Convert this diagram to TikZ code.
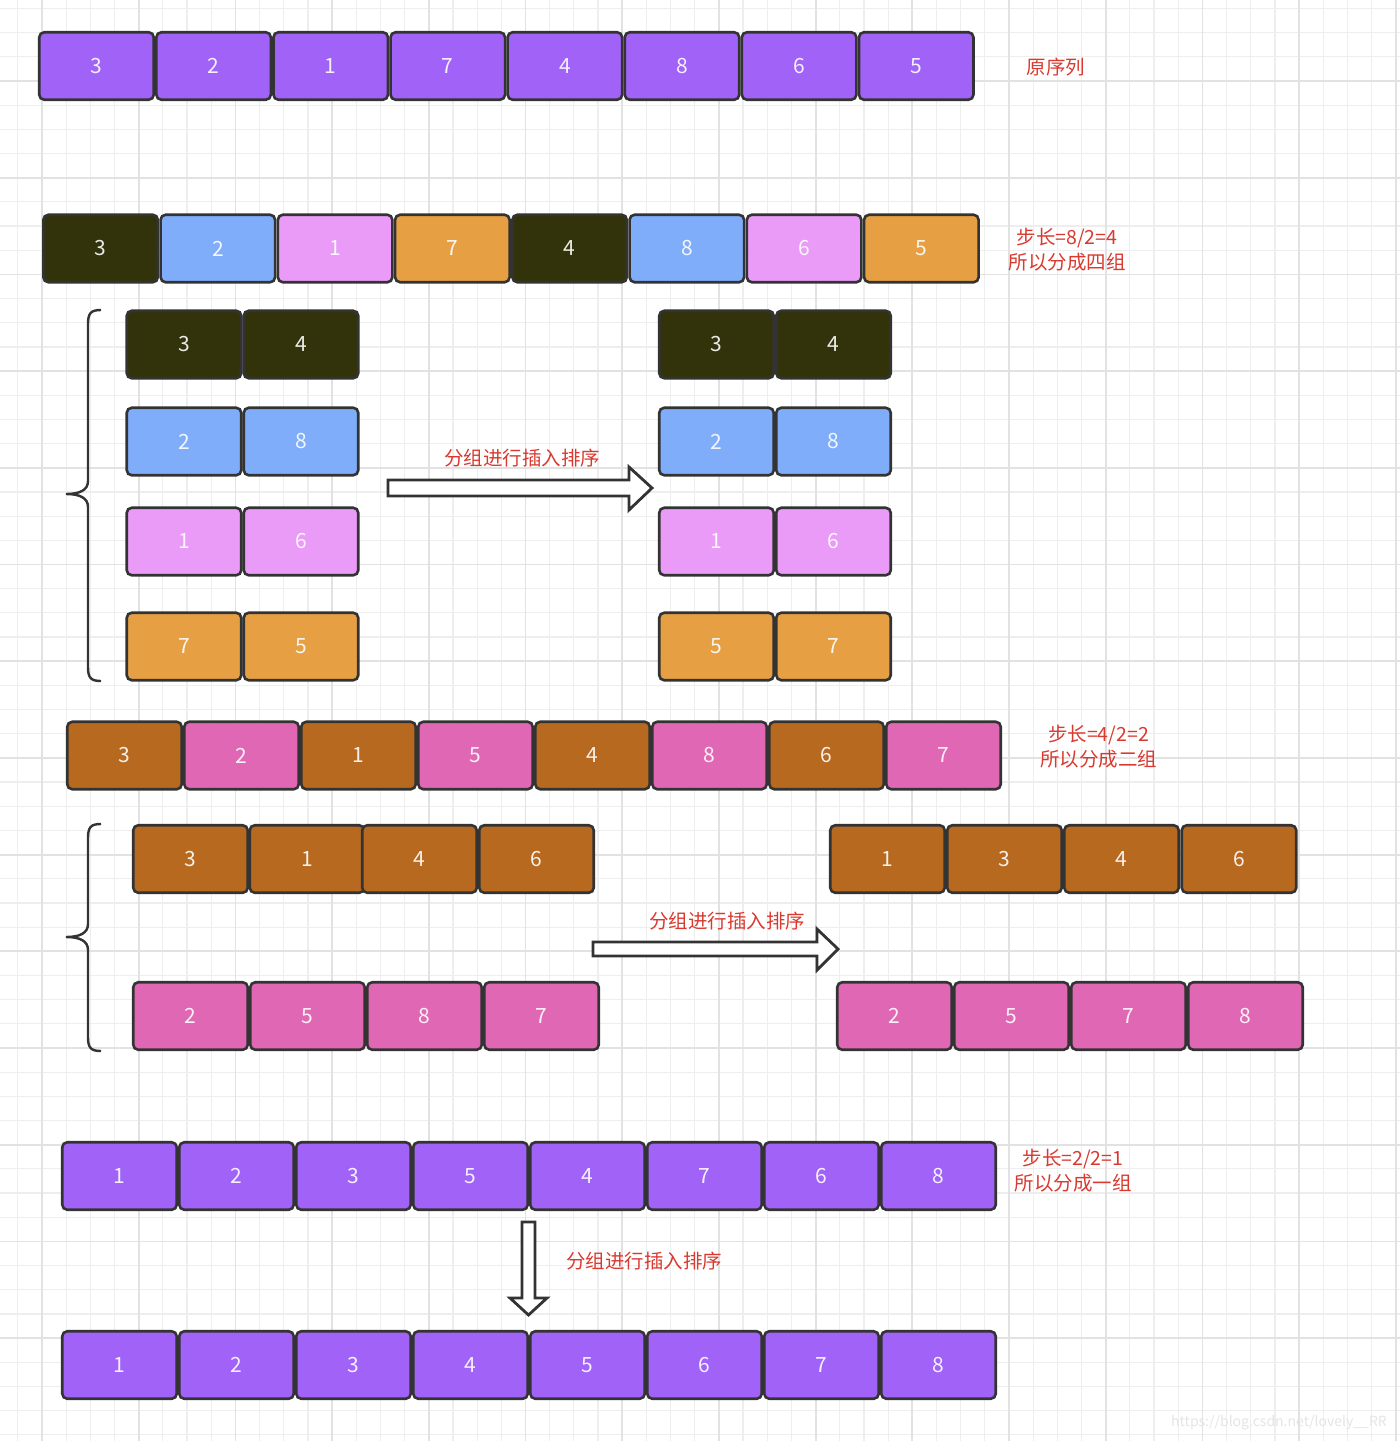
\documentclass[tikz,border=0pt]{standalone}
\usepackage{fontspec}
\setmainfont{Noto Sans CJK SC}
\setsansfont{Noto Sans CJK SC}
\definecolor{cPurple}{HTML}{A162F7}
\definecolor{cOlive}{HTML}{32330A}
\definecolor{cBlue}{HTML}{7FADFA}
\definecolor{cLPink}{HTML}{E99BF7}
\definecolor{cOrange}{HTML}{E6A043}
\definecolor{cBrown}{HTML}{B6691F}
\definecolor{cPink}{HTML}{E067B4}
\definecolor{cBorder}{HTML}{333333}
\definecolor{cRed}{HTML}{D93A30}
\definecolor{cGridMinor}{HTML}{EEEEEE}
\definecolor{cGridMajor}{HTML}{E2E2E2}
\begin{document}
\begin{tikzpicture}[x=0.5pt,y=-0.5pt,
  gridminor/.style={draw=cGridMinor, line width=0.6pt},
  gridmajor/.style={draw=cGridMajor, line width=0.9pt},
  cell/.style={draw=cBorder, line width=1.3pt, rounded corners=2.5pt,
    minimum width=57.25pt, minimum height=33.75pt, inner sep=0pt,
    text=white, text opacity=0.9, font=\fontsize{10.5}{12}\selectfont},
  lab/.style={text=cRed, font=\fontsize{9.75}{12.5}\selectfont, align=center, inner sep=0pt},
  hollow/.style={draw=cBorder, fill=white, line width=1.4pt, line join=miter},
  bracepath/.style={draw=cBorder, line width=1.2pt}
]
\useasboundingbox[fill=white] (0,0) rectangle (1400,1441);
% grid
\foreach \i in {-1,...,56} \draw[gridminor] ({42+24.175*\i},0) -- ({42+24.175*\i},1441);
\foreach \j in {-3,...,56} \draw[gridminor] (0,{81+24.175*\j}) -- (1400,{81+24.175*\j});
\foreach \i in {0,...,14} \draw[gridmajor] ({42+96.7*\i},0) -- ({42+96.7*\i},1441);
\foreach \j in {0,...,13} \draw[gridmajor] (0,{81+96.7*\j}) -- (1400,{81+96.7*\j});

% row 1: original sequence
\foreach \v [count=\i] in {3,2,1,7,4,8,6,5}
  \node[cell, fill=cPurple] (a\i) at ({96.5+117.1*(\i-1)},66) {\v};
\node[lab] (la) at (1056,67) {原序列};

% row 2: gap 4
\foreach \v/\c [count=\i] in {3/cOlive,2/cBlue,1/cLPink,7/cOrange,4/cOlive,8/cBlue,6/cLPink,5/cOrange}
  \node[cell, fill=\c] (b\i) at ({100.6+117.25*(\i-1)},248.5) {\v};
\node[lab] (lb) at (1067,249.5) {步长=8/2=4\\所以分成四组};

% groups of 4 (left)
\node[cell, fill=cOlive] (g1a) at (184,344.5) {3};
\node[cell, fill=cOlive] (g1b) at (301,344.5) {4};
\node[cell, fill=cBlue] (g2a) at (184,441.5) {2};
\node[cell, fill=cBlue] (g2b) at (301,441.5) {8};
\node[cell, fill=cLPink] (g3a) at (184,541.5) {1};
\node[cell, fill=cLPink] (g3b) at (301,541.5) {6};
\node[cell, fill=cOrange] (g4a) at (184,646.5) {7};
\node[cell, fill=cOrange] (g4b) at (301,646.5) {5};
% groups of 4 (right, sorted)
\node[cell, fill=cOlive] (h1a) at (716.5,344.5) {3};
\node[cell, fill=cOlive] (h1b) at (833.5,344.5) {4};
\node[cell, fill=cBlue] (h2a) at (716.5,441.5) {2};
\node[cell, fill=cBlue] (h2b) at (833.5,441.5) {8};
\node[cell, fill=cLPink] (h3a) at (716.5,541.5) {1};
\node[cell, fill=cLPink] (h3b) at (833.5,541.5) {6};
\node[cell, fill=cOrange] (h4a) at (716.5,646.5) {5};
\node[cell, fill=cOrange] (h4b) at (833.5,646.5) {7};

% brace 1
\draw[bracepath] (101,310) .. controls (91,310) and (88,313) .. (88,324) -- (88,481)
  .. controls (88,490) and (80,494) .. (66,494)
  .. controls (80,494) and (88,498) .. (88,507) -- (88,667)
  .. controls (88,678) and (91,681) .. (101,681);

% arrow 1
\draw[hollow] (388,480) -- (629,480) -- (629,467) -- (652,488) -- (629,510) -- (629,496) -- (388,496) -- cycle;
\node[lab] (l1) at (522,458) {分组进行插入排序};

% row 3: gap 2
\foreach \v/\c [count=\i] in {3/cBrown,2/cPink,1/cBrown,5/cPink,4/cBrown,8/cPink,6/cBrown,7/cPink}
  \node[cell, fill=\c] (c\i) at ({124.5+117*(\i-1)},755.5) {\v};
\node[lab] (lc) at (1098.5,746.5) {步长=4/2=2\\所以分成二组};

% groups of 2 (left)
\node[cell, fill=cBrown] (p1) at (190.5,859) {3};
\node[cell, fill=cBrown] (p2) at (307,859) {1};
\node[cell, fill=cBrown] (p3) at (419.5,859) {4};
\node[cell, fill=cBrown] (p4) at (536.5,859) {6};
\node[cell, fill=cPink] (q1) at (190.5,1016) {2};
\node[cell, fill=cPink] (q2) at (307.5,1016) {5};
\node[cell, fill=cPink] (q3) at (424.5,1016) {8};
\node[cell, fill=cPink] (q4) at (541.5,1016) {7};
% groups of 2 (right, sorted)
\node[cell, fill=cBrown] (s1) at (887.5,859) {1};
\node[cell, fill=cBrown] (s2) at (1004.5,859) {3};
\node[cell, fill=cBrown] (s3) at (1121.5,859) {4};
\node[cell, fill=cBrown] (s4) at (1239,859) {6};
\node[cell, fill=cPink] (t1) at (894.5,1016) {2};
\node[cell, fill=cPink] (t2) at (1011.5,1016) {5};
\node[cell, fill=cPink] (t3) at (1128.5,1016) {7};
\node[cell, fill=cPink] (t4) at (1245.5,1016) {8};

% brace 2
\draw[bracepath] (101,824) .. controls (91,824) and (88,827) .. (88,838) -- (88,924)
  .. controls (88,933) and (80,937) .. (66,937)
  .. controls (80,937) and (88,941) .. (88,950) -- (88,1037)
  .. controls (88,1048) and (91,1051) .. (101,1051);

% arrow 2
\draw[hollow] (593,942) -- (817,942) -- (817,929) -- (838,949) -- (817,970) -- (817,956) -- (593,956) -- cycle;
\node[lab] (l2) at (727,921) {分组进行插入排序};

% row 4: gap 1
\foreach \v [count=\i] in {1,2,3,5,4,7,6,8}
  \node[cell, fill=cPurple] (d\i) at ({119.5+117*(\i-1)},1176) {\v};
\node[lab] (ld) at (1073,1171) {步长=2/2=1\\所以分成一组};

% down arrow
\draw[hollow] (522,1222) -- (535,1222) -- (535,1298) -- (547,1298) -- (528.5,1315) -- (510,1298) -- (522,1298) -- cycle;
\node[lab] (l3) at (644,1261) {分组进行插入排序};

% row 5: result
\foreach \v [count=\i] in {1,2,3,4,5,6,7,8}
  \node[cell, fill=cPurple] (e\i) at ({119.5+117*(\i-1)},1365) {\v};

% watermark
\node[text=black!10, font=\fontsize{7}{8}\selectfont, inner sep=0pt] (wm) at (1279,1423) {https://blog.csdn.net/lovely\_\_RR};
\end{tikzpicture}
\end{document}
